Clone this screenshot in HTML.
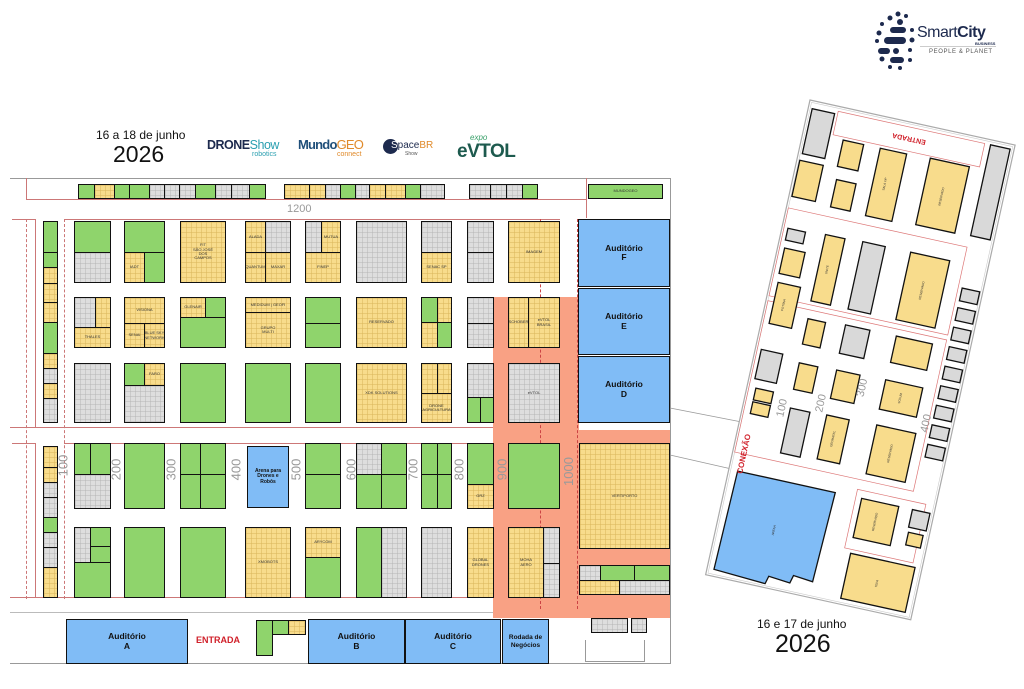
<!DOCTYPE html>
<html><head><meta charset="utf-8">
<style>
*{margin:0;padding:0;box-sizing:border-box}
body{width:1024px;height:689px;background:#fff;position:relative;overflow:hidden;font-family:"Liberation Sans",sans-serif}
.b{position:absolute;border:1.6px solid #111;font-size:4px;color:#333;display:flex;align-items:center;justify-content:center;text-align:center;line-height:1.1;overflow:hidden}
.g{background:#8fd46c}
.y{background-color:#f8dc8c;background-image:linear-gradient(#d9b55a 0.7px,transparent 0.7px),linear-gradient(90deg,#d9b55a 0.7px,transparent 0.7px);background-size:5px 5px}
.r{background-color:#dedede;background-image:linear-gradient(#b5b5b5 0.7px,transparent 0.7px),linear-gradient(90deg,#b5b5b5 0.7px,transparent 0.7px);background-size:5px 5px}
.bl{background:#80bcf6;font-size:8px;font-weight:bold;color:#111}
.aud{font-size:8.5px}
.ln{position:absolute;background:#c77}
.sec{position:absolute;color:#9a9a9a;font-size:13px;transform:rotate(-90deg);transform-origin:center}
</style></head><body>

<!-- header -->
<div style="position:absolute;left:96px;top:128px;font-size:12px;color:#111">16 a 18 de junho</div>
<div style="position:absolute;left:113px;top:141px;font-size:23px;color:#111">2026</div>
<div style="position:absolute;left:207px;top:138px;font-size:12.5px;font-weight:bold;color:#1d2a4e;letter-spacing:-0.5px">DRONE<span style="color:#2a9fb0;font-weight:normal">Show</span></div>
<div style="position:absolute;left:252px;top:151px;font-size:7px;color:#2a9fb0">robotics</div>
<div style="position:absolute;left:298px;top:137px;font-size:13px;font-weight:bold;color:#1f4f7a;letter-spacing:-0.8px">Mundo<span style="color:#e08a2a;font-weight:normal">GEO</span></div>
<div style="position:absolute;left:337px;top:151px;font-size:7px;color:#e08a2a">connect</div>
<div style="position:absolute;left:383px;top:139px;width:15px;height:15px;border-radius:50%;background:#1d2a4e"></div>
<div style="position:absolute;left:391px;top:140px;font-size:10px;color:#1d2a4e"><span style="color:#fff">S</span>pace<span style="color:#e08a2a">BR</span></div>
<div style="position:absolute;left:405px;top:151px;font-size:5px;color:#555">Show</div>
<div style="position:absolute;left:470px;top:133px;font-size:8px;color:#3aa06a;font-style:italic">expo</div>
<div style="position:absolute;left:457px;top:141px;font-size:19px;font-weight:bold;color:#1d5a4e;letter-spacing:-0.5px">eVTOL</div>

<!-- SmartCity logo -->
<svg style="position:absolute;left:870px;top:8px" width="60" height="64">
<g fill="#1d2a4e">
<circle cx="28" cy="6" r="2.5"/><circle cx="36" cy="8" r="2"/><circle cx="20" cy="10" r="2.5"/><circle cx="30" cy="14" r="3"/><circle cx="12" cy="16" r="2"/>
<rect x="20" y="19" width="16" height="6" rx="3"/><circle cx="42" cy="22" r="2"/><circle cx="9" cy="25" r="2.5"/>
<rect x="14" y="29" width="22" height="7" rx="3.5"/><circle cx="42" cy="32" r="2.5"/><circle cx="7" cy="33" r="2"/>
<rect x="8" y="40" width="12" height="6" rx="3"/><circle cx="26" cy="43" r="3"/><circle cx="40" cy="42" r="2"/>
<circle cx="12" cy="51" r="2.5"/><rect x="20" y="49" width="14" height="6" rx="3"/><circle cx="20" cy="59" r="2"/><circle cx="30" cy="60" r="2"/><circle cx="40" cy="52" r="2"/>
</g></svg>
<div style="position:absolute;left:917px;top:24px;font-size:16px;color:#1d2a4e;letter-spacing:-0.5px">Smart<b>City</b></div>
<div style="position:absolute;left:975px;top:41px;font-size:4px;font-weight:bold;color:#1d2a4e">BUSINESS</div>
<div style="position:absolute;left:920px;top:46px;width:76px;height:1px;background:#ccc"></div>
<div style="position:absolute;left:929px;top:49px;font-size:6px;color:#555;letter-spacing:0.6px">PEOPLE &amp; PLANET</div>

<!-- left plan red lines -->
<div class="ln" style="left:10px;top:178px;width:660px;height:1px;background:#999"></div>
<div class="ln" style="left:26px;top:178px;width:1px;height:21px"></div>
<div class="ln" style="left:26px;top:199px;width:560px;height:1px"></div>
<div class="ln" style="left:12px;top:219px;width:23px;height:1px"></div>
<div class="ln" style="left:64px;top:219px;width:496px;height:1px"></div>
<div class="ln" style="left:35px;top:219px;width:1px;height:208px"></div>
<div class="ln" style="left:35px;top:443px;width:1px;height:155px"></div>
<div class="ln" style="left:12px;top:443px;width:23px;height:1px"></div>
<div class="ln" style="left:64px;top:443px;width:430px;height:1px"></div>
<div class="ln" style="left:10px;top:597px;width:484px;height:1px"></div>
<div class="ln" style="left:10px;top:427px;width:484px;height:1px"></div>
<div class="ln" style="left:26px;top:219px;width:0;height:380px;border-left:1px dashed #c77;background:none"></div>
<div class="ln" style="left:64px;top:219px;width:0;height:380px;border-left:1px dashed #c77;background:none"></div>
<div class="ln" style="left:10px;top:663px;width:660px;height:1px;background:#999"></div>
<div class="ln" style="left:10px;top:612px;width:660px;height:1px;background:#bbb"></div>
<div class="ln" style="left:670px;top:178px;width:1px;height:486px;background:#999"></div>
<div class="ln" style="left:586px;top:178px;width:1px;height:40px"></div>

<!-- orange zone -->
<div style="position:absolute;left:493px;top:297px;width:86px;height:321px;background:#f9a184"></div>
<div style="position:absolute;left:578px;top:430px;width:92px;height:188px;background:#f9a184"></div>
<div class="ln" style="left:540px;top:219px;width:0;height:390px;border-left:1px dashed #c44;background:none"></div>
<div class="ln" style="left:577px;top:219px;width:0;height:390px;border-left:1px dashed #c44;background:none"></div>

<!-- top strip -->
<div class="b g" style="left:78px;top:184px;width:17px;height:15px"></div>
<div class="b y" style="left:94px;top:184px;width:21px;height:15px"></div>
<div class="b g" style="left:114px;top:184px;width:16px;height:15px"></div>
<div class="b g" style="left:129px;top:184px;width:21px;height:15px"></div>
<div class="b r" style="left:149px;top:184px;width:16px;height:15px"></div>
<div class="b r" style="left:164px;top:184px;width:16px;height:15px"></div>
<div class="b r" style="left:179px;top:184px;width:17px;height:15px"></div>
<div class="b g" style="left:195px;top:184px;width:21px;height:15px"></div>
<div class="b r" style="left:215px;top:184px;width:17px;height:15px"></div>
<div class="b r" style="left:231px;top:184px;width:19px;height:15px"></div>
<div class="b g" style="left:249px;top:184px;width:17px;height:15px"></div>
<div class="b y" style="left:284px;top:184px;width:26px;height:15px"></div>
<div class="b y" style="left:309px;top:184px;width:17px;height:15px"></div>
<div class="b r" style="left:325px;top:184px;width:16px;height:15px"></div>
<div class="b g" style="left:340px;top:184px;width:16px;height:15px"></div>
<div class="b r" style="left:355px;top:184px;width:15px;height:15px"></div>
<div class="b y" style="left:369px;top:184px;width:17px;height:15px"></div>
<div class="b y" style="left:385px;top:184px;width:21px;height:15px"></div>
<div class="b g" style="left:405px;top:184px;width:16px;height:15px"></div>
<div class="b r" style="left:420px;top:184px;width:25px;height:15px"></div>
<div class="b r" style="left:469px;top:184px;width:22px;height:15px"></div>
<div class="b r" style="left:490px;top:184px;width:17px;height:15px"></div>
<div class="b r" style="left:506px;top:184px;width:17px;height:15px"></div>
<div class="b g" style="left:522px;top:184px;width:16px;height:15px"></div>
<div class="b g" style="left:588px;top:184px;width:75px;height:15px">MUNDOGEO</div>
<div style="position:absolute;left:287px;top:203px;font-size:11px;color:#999">1200</div>

<!-- left column stack -->
<div class="b g" style="left:43px;top:221px;width:15px;height:32px"></div>
<div class="b g" style="left:43px;top:252px;width:15px;height:16px"></div>
<div class="b y" style="left:43px;top:267px;width:15px;height:17px"></div>
<div class="b y" style="left:43px;top:283px;width:15px;height:20px"></div>
<div class="b y" style="left:43px;top:302px;width:15px;height:21px"></div>
<div class="b g" style="left:43px;top:322px;width:15px;height:32px"></div>
<div class="b y" style="left:43px;top:353px;width:15px;height:16px"></div>
<div class="b r" style="left:43px;top:368px;width:15px;height:16px"></div>
<div class="b y" style="left:43px;top:383px;width:15px;height:16px"></div>
<div class="b r" style="left:43px;top:398px;width:15px;height:25px"></div>
<div class="b y" style="left:43px;top:446px;width:15px;height:22px"></div>
<div class="b y" style="left:43px;top:467px;width:15px;height:16px"></div>
<div class="b r" style="left:43px;top:482px;width:15px;height:16px"></div>
<div class="b r" style="left:43px;top:497px;width:15px;height:21px"></div>
<div class="b g" style="left:43px;top:517px;width:15px;height:16px"></div>
<div class="b r" style="left:43px;top:532px;width:15px;height:16px"></div>
<div class="b r" style="left:43px;top:547px;width:15px;height:21px"></div>
<div class="b y" style="left:43px;top:567px;width:15px;height:31px"></div>

<!-- ROW 1 -->
<div class="b g" style="left:74px;top:221px;width:37px;height:32px"></div>
<div class="b r" style="left:74px;top:252px;width:37px;height:31px"></div>
<div class="b g" style="left:124px;top:221px;width:41px;height:32px"></div>
<div class="b y" style="left:124px;top:252px;width:21px;height:31px">IADT</div>
<div class="b g" style="left:144px;top:252px;width:21px;height:31px"></div>
<div class="b y" style="left:180px;top:221px;width:46px;height:62px">FIT<br>SÃO JOSÉ<br>DOS<br>CAMPOS</div>
<div class="b y" style="left:245px;top:221px;width:21px;height:32px">ALADA</div>
<div class="b r" style="left:265px;top:221px;width:26px;height:32px"></div>
<div class="b y" style="left:245px;top:252px;width:21px;height:31px">QUANTUM</div>
<div class="b y" style="left:265px;top:252px;width:26px;height:31px">MAXAR</div>
<div class="b r" style="left:305px;top:221px;width:17px;height:32px"></div>
<div class="b y" style="left:321px;top:221px;width:20px;height:32px">MUTUA</div>
<div class="b y" style="left:305px;top:252px;width:36px;height:31px">FINEP</div>
<div class="b r" style="left:356px;top:221px;width:51px;height:62px"></div>
<div class="b r" style="left:421px;top:221px;width:31px;height:32px"></div>
<div class="b y" style="left:421px;top:252px;width:31px;height:31px">SENAC SP</div>
<div class="b r" style="left:467px;top:221px;width:27px;height:32px"></div>
<div class="b r" style="left:467px;top:252px;width:27px;height:31px"></div>
<div class="b y" style="left:508px;top:221px;width:52px;height:62px">IMAGEM</div>

<div class="b bl aud" style="left:578px;top:219px;width:92px;height:68px">Auditório<br>F</div>
<div class="b bl aud" style="left:578px;top:288px;width:92px;height:67px">Auditório<br>E</div>
<div class="b bl aud" style="left:578px;top:356px;width:92px;height:67px">Auditório<br>D</div>

<!-- ROW 2 -->
<div class="b r" style="left:74px;top:297px;width:22px;height:31px"></div>
<div class="b y" style="left:95px;top:297px;width:16px;height:31px"></div>
<div class="b y" style="left:74px;top:327px;width:37px;height:21px">THALES</div>
<div class="b y" style="left:124px;top:297px;width:41px;height:27px">VISIONA</div>
<div class="b y" style="left:124px;top:323px;width:21px;height:25px">SENAI</div>
<div class="b y" style="left:144px;top:323px;width:21px;height:25px">BLUE SKY NETWORK</div>
<div class="b y" style="left:180px;top:297px;width:26px;height:21px">GLENAIR</div>
<div class="b g" style="left:205px;top:297px;width:21px;height:21px"></div>
<div class="b g" style="left:180px;top:317px;width:46px;height:31px"></div>
<div class="b y" style="left:245px;top:297px;width:46px;height:16px">MEDIDUM | GEOFI</div>
<div class="b y" style="left:245px;top:312px;width:46px;height:36px">GRUPO<br>MULTI</div>
<div class="b g" style="left:305px;top:297px;width:36px;height:27px"></div>
<div class="b g" style="left:305px;top:323px;width:36px;height:25px"></div>
<div class="b y" style="left:356px;top:297px;width:51px;height:51px">RESERVADO</div>
<div class="b g" style="left:421px;top:297px;width:17px;height:26px"></div>
<div class="b y" style="left:437px;top:297px;width:15px;height:26px"></div>
<div class="b y" style="left:421px;top:322px;width:17px;height:26px"></div>
<div class="b g" style="left:437px;top:322px;width:15px;height:26px"></div>
<div class="b r" style="left:467px;top:297px;width:27px;height:27px"></div>
<div class="b r" style="left:467px;top:323px;width:27px;height:25px"></div>
<div class="b y" style="left:508px;top:297px;width:21px;height:51px">SCHOBER</div>
<div class="b y" style="left:528px;top:297px;width:32px;height:51px">eVTOL<br>BRASIL</div>

<!-- ROW 3 -->
<div class="b r" style="left:74px;top:363px;width:37px;height:60px"></div>
<div class="b g" style="left:124px;top:363px;width:21px;height:23px"></div>
<div class="b y" style="left:144px;top:363px;width:21px;height:23px">FARO</div>
<div class="b r" style="left:124px;top:385px;width:41px;height:38px"></div>
<div class="b g" style="left:180px;top:363px;width:46px;height:60px"></div>
<div class="b g" style="left:245px;top:363px;width:46px;height:60px"></div>
<div class="b g" style="left:305px;top:363px;width:36px;height:60px"></div>
<div class="b y" style="left:356px;top:363px;width:51px;height:60px">XDK SOLUTIONS</div>
<div class="b y" style="left:421px;top:363px;width:17px;height:31px"></div>
<div class="b y" style="left:437px;top:363px;width:15px;height:31px"></div>
<div class="b y" style="left:421px;top:393px;width:31px;height:30px">DRONE<br>AGRICULTURA</div>
<div class="b r" style="left:467px;top:363px;width:27px;height:35px"></div>
<div class="b g" style="left:467px;top:397px;width:14px;height:26px"></div>
<div class="b g" style="left:480px;top:397px;width:14px;height:26px"></div>
<div class="b r" style="left:508px;top:363px;width:52px;height:60px">eVTOL</div>

<!-- ROW 4 -->
<div class="b g" style="left:74px;top:443px;width:17px;height:32px"></div>
<div class="b g" style="left:90px;top:443px;width:21px;height:32px"></div>
<div class="b r" style="left:74px;top:474px;width:37px;height:35px"></div>
<div class="b g" style="left:124px;top:443px;width:41px;height:66px"></div>
<div class="b g" style="left:180px;top:443px;width:21px;height:32px"></div>
<div class="b g" style="left:200px;top:443px;width:26px;height:32px"></div>
<div class="b g" style="left:180px;top:474px;width:21px;height:35px"></div>
<div class="b g" style="left:200px;top:474px;width:26px;height:35px"></div>
<div class="b bl" style="left:247px;top:446px;width:42px;height:62px;font-size:5px">Arena para<br>Drones e<br>Robôs</div>
<div class="b g" style="left:305px;top:443px;width:36px;height:32px"></div>
<div class="b g" style="left:305px;top:474px;width:36px;height:35px"></div>
<div class="b r" style="left:356px;top:443px;width:26px;height:32px"></div>
<div class="b g" style="left:381px;top:443px;width:26px;height:32px"></div>
<div class="b g" style="left:356px;top:474px;width:26px;height:35px"></div>
<div class="b g" style="left:381px;top:474px;width:26px;height:35px"></div>
<div class="b g" style="left:421px;top:443px;width:17px;height:32px"></div>
<div class="b g" style="left:437px;top:443px;width:15px;height:32px"></div>
<div class="b g" style="left:421px;top:474px;width:17px;height:35px"></div>
<div class="b g" style="left:437px;top:474px;width:15px;height:35px"></div>
<div class="b g" style="left:467px;top:443px;width:27px;height:42px"></div>
<div class="b y" style="left:467px;top:484px;width:27px;height:25px">GRZ</div>
<div class="b g" style="left:508px;top:443px;width:52px;height:66px"></div>
<div class="b y" style="left:579px;top:443px;width:91px;height:106px">VERTIPORTO</div>

<!-- ROW 5 -->
<div class="b r" style="left:74px;top:527px;width:17px;height:36px"></div>
<div class="b g" style="left:90px;top:527px;width:21px;height:20px"></div>
<div class="b g" style="left:90px;top:546px;width:21px;height:17px"></div>
<div class="b g" style="left:74px;top:562px;width:37px;height:36px"></div>
<div class="b g" style="left:124px;top:527px;width:41px;height:71px"></div>
<div class="b g" style="left:180px;top:527px;width:46px;height:71px"></div>
<div class="b y" style="left:245px;top:527px;width:46px;height:71px">XMOBOTS</div>
<div class="b y" style="left:305px;top:527px;width:36px;height:31px">ARYCOM</div>
<div class="b g" style="left:305px;top:557px;width:36px;height:41px"></div>
<div class="b g" style="left:356px;top:527px;width:26px;height:71px"></div>
<div class="b r" style="left:381px;top:527px;width:26px;height:71px"></div>
<div class="b r" style="left:421px;top:527px;width:31px;height:71px"></div>
<div class="b y" style="left:467px;top:527px;width:27px;height:71px">GLOBAL<br>DRONES</div>
<div class="b y" style="left:508px;top:527px;width:36px;height:71px">MOHA<br>AERO</div>
<div class="b r" style="left:543px;top:527px;width:17px;height:37px"></div>
<div class="b r" style="left:543px;top:563px;width:17px;height:35px"></div>
<div class="b r" style="left:579px;top:565px;width:22px;height:16px"></div>
<div class="b g" style="left:600px;top:565px;width:35px;height:16px"></div>
<div class="b g" style="left:634px;top:565px;width:36px;height:16px"></div>
<div class="b y" style="left:579px;top:580px;width:41px;height:15px"></div>
<div class="b r" style="left:619px;top:580px;width:51px;height:15px"></div>

<!-- section numbers -->
<div class="sec" style="left:52px;top:458px">100</div>
<div class="sec" style="left:105px;top:462px">200</div>
<div class="sec" style="left:160px;top:462px">300</div>
<div class="sec" style="left:225px;top:462px">400</div>
<div class="sec" style="left:285px;top:462px">500</div>
<div class="sec" style="left:340px;top:462px">600</div>
<div class="sec" style="left:402px;top:462px">700</div>
<div class="sec" style="left:448px;top:462px">800</div>
<div class="sec" style="left:491px;top:462px">900</div>
<div class="sec" style="left:554px;top:464px">1000</div>

<!-- bottom row -->
<div class="b bl aud" style="left:66px;top:619px;width:122px;height:45px">Auditório<br>A</div>
<div style="position:absolute;left:196px;top:635px;font-size:9px;font-weight:bold;color:#d0202a">ENTRADA</div>
<div class="b g" style="left:256px;top:620px;width:17px;height:36px"></div>
<div class="b g" style="left:272px;top:620px;width:17px;height:15px"></div>
<div class="b y" style="left:288px;top:620px;width:18px;height:15px"></div>
<div class="b bl aud" style="left:308px;top:619px;width:97px;height:45px">Auditório<br>B</div>
<div class="b bl aud" style="left:405px;top:619px;width:96px;height:45px">Auditório<br>C</div>
<div class="b bl" style="left:502px;top:619px;width:47px;height:45px;font-size:6.5px">Rodada de<br>Negócios</div>
<div class="b r" style="left:591px;top:618px;width:37px;height:15px"></div>
<div class="b r" style="left:631px;top:618px;width:16px;height:15px"></div>
<div style="position:absolute;left:585px;top:640px;width:60px;height:22px;border:1px solid #999;border-top:none"></div>

<!-- connectors + right plan -->
<svg style="position:absolute;left:0;top:0" width="1024" height="689">
<line x1="670" y1="408" x2="752" y2="424" stroke="#999" stroke-width="0.8"/>
<line x1="670" y1="455" x2="736" y2="470" stroke="#999" stroke-width="0.8"/>
<g transform="translate(810,100) rotate(12.4)" font-family="Liberation Sans, sans-serif">
<rect x="0" y="0" width="210" height="486" fill="#fff" stroke="#aaa" stroke-width="1.2"/>
<rect x="2" y="2" width="206" height="482" fill="none" stroke="#ccc" stroke-width="0.6"/>
<g fill="none" stroke="#d77" stroke-width="0.7">
<rect x="30" y="5" width="150" height="24"/>
<rect x="2" y="110" width="183" height="90"/>
<rect x="2" y="205" width="183" height="155"/>
<rect x="130" y="370" width="70" height="60"/>
</g>
<text x="105" y="17" font-size="7" font-weight="bold" fill="#d0202a" text-anchor="middle" transform="rotate(180 105 17)" dy="2.5">ENTRADA</text>
<g stroke="#111" stroke-width="1.3">
<rect x="4" y="8" width="23" height="46" fill="#d9d9d9"/>
<rect x="186" y="5" width="20" height="93" fill="#d9d9d9"/>
<rect x="130" y="31" width="40" height="68" fill="#f8dc8c"/>
<rect x="79" y="32" width="27" height="69" fill="#f8dc8c"/>
<rect x="41" y="32" width="21" height="27" fill="#f8dc8c"/>
<rect x="43" y="72" width="20" height="28" fill="#f8dc8c"/>
<rect x="3" y="61" width="24" height="37" fill="#f8dc8c"/>
<rect x="6" y="130" width="18" height="12" fill="#d9d9d9"/>
<rect x="7" y="150" width="21" height="26" fill="#f8dc8c"/>
<rect x="8" y="185" width="23" height="42" fill="#f8dc8c"/>
<rect x="44" y="128" width="20" height="68" fill="#f8dc8c"/>
<rect x="82" y="127" width="23" height="69" fill="#d9d9d9"/>
<rect x="131" y="127" width="40" height="69" fill="#f8dc8c"/>
<rect x="189" y="151" width="18" height="13" fill="#d9d9d9"/>
<rect x="189" y="171" width="18" height="13" fill="#d9d9d9"/>
<rect x="189" y="191" width="18" height="13" fill="#d9d9d9"/>
<rect x="189" y="211" width="18" height="13" fill="#d9d9d9"/>
<rect x="189" y="231" width="18" height="13" fill="#d9d9d9"/>
<rect x="189" y="251" width="18" height="13" fill="#d9d9d9"/>
<rect x="189" y="271" width="18" height="13" fill="#d9d9d9"/>
<rect x="189" y="291" width="18" height="13" fill="#d9d9d9"/>
<rect x="189" y="311" width="18" height="13" fill="#d9d9d9"/>
<rect x="45" y="214" width="18" height="26" fill="#f8dc8c"/>
<rect x="83" y="212" width="25" height="29" fill="#d9d9d9"/>
<rect x="6" y="254" width="22" height="30" fill="#d9d9d9"/>
<rect x="9" y="293" width="18" height="12" fill="#f8dc8c"/>
<rect x="9" y="307" width="18" height="12" fill="#f8dc8c"/>
<rect x="46" y="259" width="19" height="27" fill="#f8dc8c"/>
<rect x="84" y="258" width="24" height="29" fill="#f8dc8c"/>
<rect x="135" y="212" width="37" height="27" fill="#f8dc8c"/>
<rect x="134" y="257" width="38" height="30" fill="#f8dc8c"/>
<rect x="47" y="305" width="20" height="46" fill="#d9d9d9"/>
<rect x="84" y="304" width="23" height="45" fill="#f8dc8c"/>
<rect x="135" y="303" width="40" height="50" fill="#f8dc8c"/>
<rect x="136" y="378" width="38" height="40" fill="#f8dc8c"/>
<rect x="188" y="378" width="18" height="18" fill="#d9d9d9"/>
<rect x="189" y="401" width="15" height="13" fill="#f8dc8c"/>
<rect x="137" y="434" width="66" height="46" fill="#f8dc8c"/>
<polygon points="9,378 109,378 106,470 86,468 84,476 62,474 60,482 7,479" fill="#80bcf6"/>
</g>
<g font-size="3" fill="#333" text-anchor="middle">
<text x="150" y="66" transform="rotate(-90 150 66)">RESERVADO</text>
<text x="151" y="162" transform="rotate(-90 151 162)">RESERVADO</text>
<text x="155" y="328" transform="rotate(-90 155 328)">RESERVADO</text>
<text x="155" y="398" transform="rotate(-90 155 398)">RESERVADO</text>
<text x="170" y="458" transform="rotate(-90 170 458)">TEFA</text>
<text x="92" y="66" transform="rotate(-90 92 66)">SALA VIP</text>
<text x="54" y="162" transform="rotate(-90 54 162)">UNITE</text>
<text x="19" y="206" transform="rotate(-90 19 206)">POTIÍNA</text>
<text x="96" y="326" transform="rotate(-90 96 326)">GEOMATEL</text>
<text x="153" y="272" transform="rotate(-90 153 272)">SOLUM</text>
<text x="58" y="428" transform="rotate(-90 58 428)">ARENA</text>
</g>
<g font-size="11" fill="#9a9a9a">
<text x="-316" y="42" transform="rotate(-90)">100</text>
<text x="-303" y="79" transform="rotate(-90)">200</text>
<text x="-279" y="116" transform="rotate(-90)">300</text>
<text x="-300" y="186" transform="rotate(-90)">400</text>
</g>
<text x="-380" y="14" font-size="8" font-weight="bold" fill="#d0202a" transform="rotate(-90)" text-anchor="start">CONEXÃO</text>
</g>
</svg>

<div style="position:absolute;left:757px;top:617px;font-size:12px;color:#111">16 e 17 de junho</div>
<div style="position:absolute;left:775px;top:630px;font-size:25px;color:#111">2026</div>
</body></html>
